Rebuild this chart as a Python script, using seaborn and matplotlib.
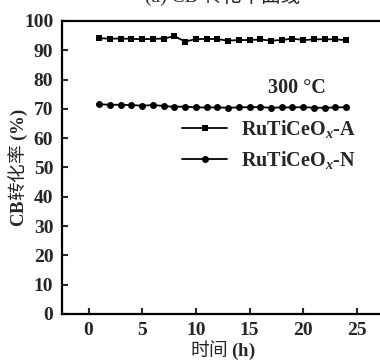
import seaborn as sns
import matplotlib.pyplot as plt
import pandas as pd

# tiempo (h) y conversión de CB (%)
horas = list(range(1, 25))
conv_a = [94.1, 94.0, 94.0, 93.9, 93.8, 93.9, 94.0, 94.8, 93.0, 93.8, 93.9, 93.8,
          93.3, 93.5, 93.5, 93.7, 93.3, 93.5, 94.0, 93.5, 93.7, 93.8, 93.7, 93.5]
conv_n = [71.6, 71.4, 71.4, 71.3, 71.1, 71.3, 71.0, 70.7, 70.8, 70.5, 70.5, 70.5,
          70.4, 70.5, 70.6, 70.6, 70.4, 70.5, 70.5, 70.6, 70.4, 70.4, 70.5, 70.6]
etiquetas = [r'RuTiCeO$_x$-A', r'RuTiCeO$_x$-N']
xticks = [0, 5, 10, 15, 20, 25]
yticks = list(range(0, 101, 10))

sns.set_style('ticks')
plt.rcParams['font.family'] = ['Liberation Serif', 'Noto Sans CJK SC']
plt.rcParams['mathtext.fontset'] = 'custom'
plt.rcParams['mathtext.rm'] = 'Liberation Serif:bold'
plt.rcParams['mathtext.it'] = 'Liberation Serif:italic:bold'

df = pd.DataFrame({'t': horas, 'a': conv_a, 'n': conv_n})

fig = plt.figure(figsize=(3.8, 3.63), dpi=100)
ax = fig.add_axes([61.7 / 380, 49 / 363, 322 / 380, 293 / 363])

sns.lineplot(data=df, x='t', y='a', ax=ax, color='black', marker='s', markersize=5,
             markeredgewidth=0, linewidth=1.3, label=etiquetas[0])
sns.lineplot(data=df, x='t', y='n', ax=ax, color='black', marker='o', markersize=5,
             markeredgewidth=0, linewidth=1.3, label=etiquetas[1])

ax.set_xlim(-2.5, 27.5)
ax.set_ylim(0, 100)
ax.set_xticks(xticks)
ax.set_yticks(yticks)
ax.tick_params(direction='in', length=4, width=1.5, labelsize=14, pad=6)
for lab in ax.get_xticklabels() + ax.get_yticklabels():
    lab.set_fontweight('bold')
for s in ['left', 'bottom', 'top']:
    ax.spines[s].set_linewidth(1.6)
    ax.spines[s].set_color('black')
ax.spines['right'].set_visible(False)

# texto chino con Noto CJK, partes latinas en negrita vía mathtext
cjk = {'family': 'Noto Sans CJK SC', 'size': 13.5}
ax.set_xlabel(r'时间 $\mathrm{(h)}$', fontdict=cjk, labelpad=0)
ax.set_ylabel(r'$\mathrm{CB}$转化率 $\mathrm{(\%)}$', fontdict=cjk)
ax.yaxis.set_label_coords(-0.1, 0.5)
ax.set_title('(a) CB 转化率曲线', fontsize=14, pad=14)

ax.text(19.4, 77.1, '300 °C', fontsize=14.5, fontweight='bold', ha='center', va='center')
ax.legend(loc='upper left', bbox_to_anchor=(0.35, 0.695), frameon=False,
          prop={'size': 14.5, 'weight': 'bold'},
          handlelength=2.2, handletextpad=0.7, labelspacing=0.45, borderaxespad=0)

plt.savefig('out.png', dpi=100)
